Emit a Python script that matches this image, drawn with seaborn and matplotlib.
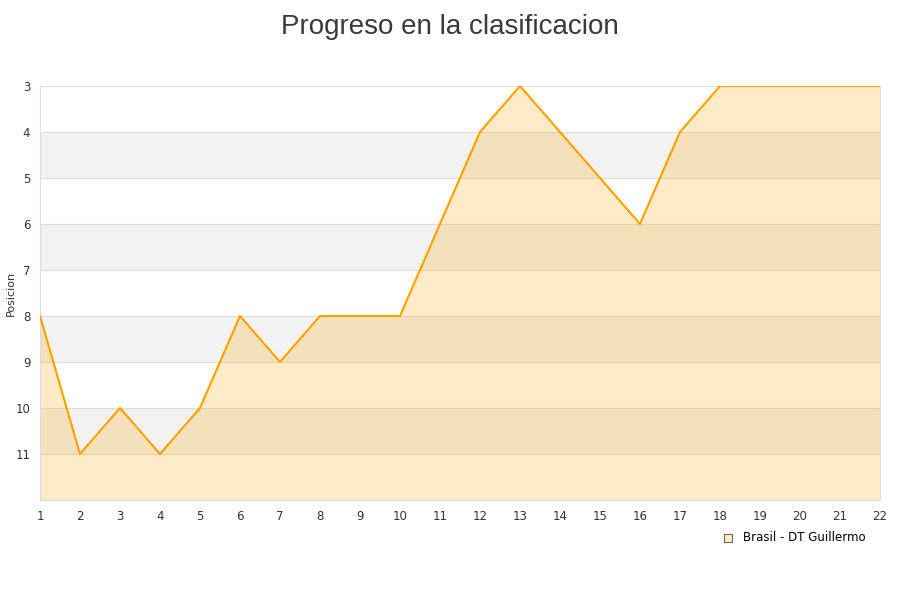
import pandas as pd
import matplotlib
matplotlib.use("Agg")
import matplotlib.pyplot as plt
import seaborn as sns

fechas = list(range(1, 23))
posiciones = [8, 11, 10, 11, 10, 8, 9, 8, 8, 8, 6, 4, 3, 4, 5, 6, 4, 3, 3, 3, 3, 3]
equipo = "Brasil - DT Guillermo"
titulo = "Progreso en la clasificacion"
y_ticks = [3, 4, 5, 6, 7, 8, 9, 10, 11]

sns.set_style("white")
plt.rcParams["font.family"] = ["DejaVu Sans"]

df = pd.DataFrame({"fecha": fechas, "posicion": posiciones})

fig = plt.figure(figsize=(9, 6), dpi=100)
ax = fig.add_axes([40 / 900, 100 / 600, 840 / 900, 414 / 600])

# alternating bands
for y0 in range(3, 12):
    if y0 % 2 == 0:
        ax.axhspan(y0, y0 + 1, color="#f2f2f2", lw=0, zorder=0)
for y0 in range(3, 13):
    ax.axhline(y0, color="#dddddd", lw=0.8, zorder=1)

ax.fill_between(df["fecha"], df["posicion"], 12, color="#ffa500", alpha=0.22, lw=0, zorder=2)
sns.lineplot(data=df, x="fecha", y="posicion", color="#ffa500", lw=1.6, ax=ax, zorder=3)

ax.set_xlim(1, 22)
ax.set_ylim(12, 3)
ax.set_xticks(fechas)
ax.set_yticks(y_ticks)
ax.tick_params(labelsize=8.5, colors="#333333", length=0, pad=7)
ax.set_xlabel("")
ax.set_ylabel("Posicion", fontsize=8, color="#333333")
ax.yaxis.set_label_coords(-0.029, 0.5)
for s in ax.spines.values():
    s.set_color("#dddddd")
    s.set_linewidth(0.8)
ax.spines["top"].set_visible(False)

fig.text(0.5, 0.977, titulo, ha="center", va="top", fontsize=20, color="#3a3a3a",
         family=["Liberation Sans", "DejaVu Sans"])

ax.scatter([], [], marker="s", s=40, facecolor="#ffecc8", edgecolor="#666666", lw=0.8, label=equipo)
leg = ax.legend(loc="upper right", bbox_to_anchor=(0.989, -0.063), frameon=False, fontsize=8.5,
                handletextpad=0.3, borderaxespad=0)
for t in leg.get_texts():
    t.set_color("#000000")

fig.savefig("out.png", dpi=100)
